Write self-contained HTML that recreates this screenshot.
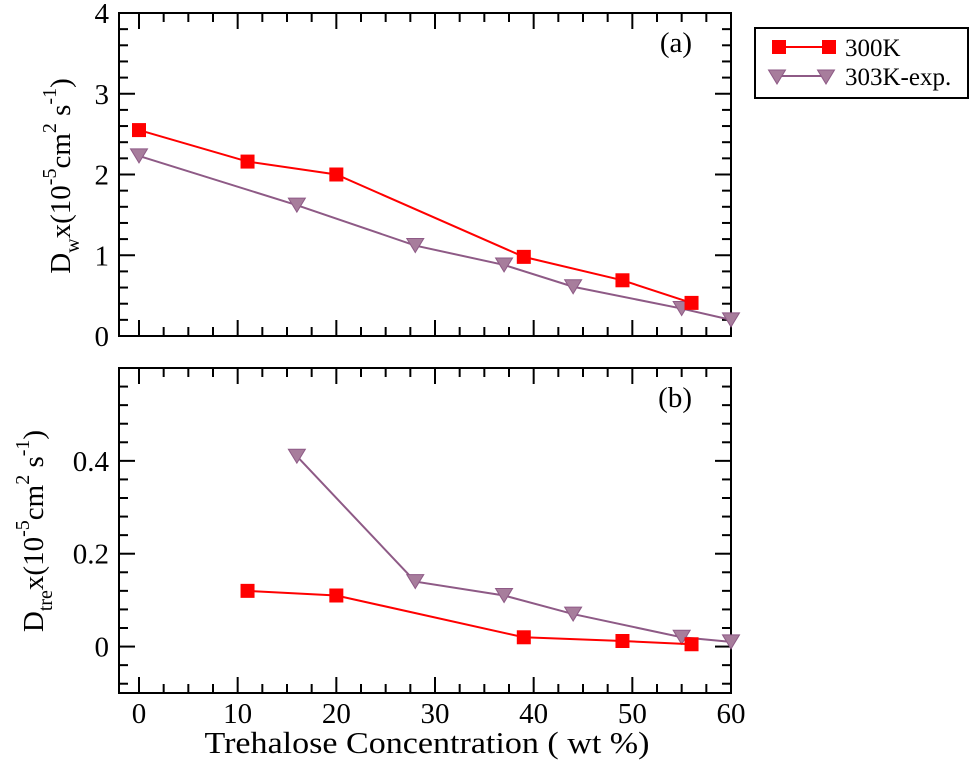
<!DOCTYPE html>
<html><head><meta charset="utf-8">
<style>
html,body{margin:0;padding:0;background:#fff;}
svg{display:block;font-family:"Liberation Serif",serif;}
</style></head>
<body>
<svg id="chart" width="980" height="762" viewBox="0 0 980 762" xmlns="http://www.w3.org/2000/svg"></svg>
<script>
const xTicks = [0,10,20,30,40,50,60];
const topYTicks = [0,1,2,3,4];
const botYTicks = [0,0.2,0.4];
const seriesNames = ["300K","303K-exp."];
const topX300 = [0,11,20,39,49,56];
const topY300 = [2.55,2.16,2.0,0.98,0.69,0.41];
const topX303 = [0,16,28,37,44,55,60];
const topY303 = [2.23,1.62,1.12,0.88,0.61,0.34,0.2];
const botX300 = [11,20,39,49,56];
const botY300 = [0.12,0.11,0.02,0.012,0.005];
const botX303 = [16,28,37,44,55,60];
const botY303 = [0.41,0.14,0.11,0.07,0.02,0.01];

const NS="http://www.w3.org/2000/svg";
const svg=document.getElementById('chart');
function el(tag,attrs,parent){const e=document.createElementNS(NS,tag);for(const k in attrs)e.setAttribute(k,attrs[k]);(parent||svg).appendChild(e);return e;}
const L=119,R=731;
const xs=v=>139+(v-0)*(R-139)/60;
const P1={top:13,bot:336,min:0,max:4,minor:0.2,major:1};
const P2={top:368,bot:693,min:-0.1,max:0.6,minor:0.04,major:0.2};
function ys(p,v){return p.bot-(v-p.min)*(p.bot-p.top)/(p.max-p.min);}
const RED="#ff0000", PUR="#8e5a86", PFILL="#a77d9c";

function panel(p,name,yTicks,label,fmt){
  const g=el('g',{});
  
  
  const fr=el('rect',{x:L,y:p.top,width:R-L,height:p.bot-p.top,fill:'none',stroke:'#000','stroke-width':2},g);
  
  
  for(let v=-2.5;v<=60.01;v+=2.5){
    const x=xs(v); if(x<L)continue;
    const len=(Math.round(v)%10===0&&Math.abs(v-Math.round(v))<1e-6)?16:9;
    el('line',{x1:x,x2:x,y1:p.bot,y2:p.bot-len,stroke:'#000','stroke-width':2},g);
    el('line',{x1:x,x2:x,y1:p.top,y2:p.top+len,stroke:'#000','stroke-width':2},g);
  }
  const start=Math.ceil(p.min/p.minor-1e-6);
  for(let i=start;i*p.minor<=p.max+1e-9;i++){
    const v=i*p.minor,y=ys(p,v);
    if(y<p.top+1||y>p.bot-1)continue;
    const isMaj=Math.abs(v/p.major-Math.round(v/p.major))<1e-6;
    const len=isMaj?16:9;
    el('line',{x1:L,x2:L+len,y1:y,y2:y,stroke:'#000','stroke-width':2},g);
    el('line',{x1:R,x2:R-len,y1:y,y2:y,stroke:'#000','stroke-width':2},g);
  }
  yTicks.forEach(v=>{
    const t=el('text',{x:L-10,y:ys(p,v)+10,'text-anchor':'end','font-size':29},g);
    t.textContent=fmt(v);
    
    
  });
  const pl=el('text',{x:692,y:p.top+39,'text-anchor':'end','font-size':29},g);
  pl.textContent=label;
  
  
}
function sq(x,y,g){const r=el('rect',{x:x-7,y:y-7,width:14,height:14,fill:RED},g);}
function tri(x,y,g){const t=el('polygon',{points:`${x-8.5},${y-7} ${x+8.5},${y-7} ${x},${y+7}`,fill:PFILL,stroke:PUR,'stroke-width':1},g);}
function series(p,xa,ya,color,width,marker,name){
  const g=el('g',{});
  
  
  const pts=xa.map((x,i)=>xs(x)+','+ys(p,ya[i])).join(' ');
  el('polyline',{points:pts,fill:'none',stroke:color,'stroke-width':width},g);
  xa.forEach((x,i)=>marker(xs(x),ys(p,ya[i]),g));
}
panel(P1,'panel-a',topYTicks,'(a)',v=>String(v));
panel(P2,'panel-b',botYTicks,'(b)',v=>v===0?'0':v.toFixed(1));
series(P1,topX303,topY303,PUR,2,tri,'series-a-303k');
series(P1,topX300,topY300,RED,2,sq,'series-a-300k');
series(P2,botX303,botY303,PUR,2,tri,'series-b-303k');
series(P2,botX300,botY300,RED,2,sq,'series-b-300k');

xTicks.forEach(v=>{
  const t=el('text',{x:xs(v),y:723,'text-anchor':'middle','font-size':29});
  t.textContent=v;
  
  
});
const xt=el('text',{x:427,y:753,'text-anchor':'middle','font-size':31,textLength:445,lengthAdjust:'spacingAndGlyphs'});
xt.textContent='Trehalose Concentration ( wt %)';



function ytitle(cx,cy,sub,name){
  const t=el('text',{transform:`translate(${cx},${cy}) rotate(-90)`,'text-anchor':'middle','font-size':29});
  
  
  t.innerHTML=`D<tspan font-size="20" dy="9">${sub}</tspan><tspan dy="-9">x(10</tspan><tspan font-size="20" dy="-14">-5</tspan><tspan dy="14">cm</tspan><tspan font-size="20" dy="-14">2</tspan><tspan dy="14"> s</tspan><tspan font-size="20" dy="-14">-1</tspan><tspan dy="14">)</tspan>`;
}
ytitle(70,176,'w','y-axis-title-a');
ytitle(43,531,'tre','y-axis-title-b');

const lg=el('g',{});


el('rect',{x:755,y:28,width:213,height:70,fill:'#fff',stroke:'#000','stroke-width':2},lg);
const e1=el('g',{},lg);


el('line',{x1:779,x2:829,y1:47,y2:47,stroke:RED,'stroke-width':2},e1);
sq(779,47,e1);sq(829,47,e1);
const t1=el('text',{x:845,y:56,'font-size':25},e1);t1.textContent=seriesNames[0];
const e2=el('g',{},lg);


el('line',{x1:777,x2:826,y1:76,y2:76,stroke:PUR,'stroke-width':2},e2);
tri(777,77,e2);tri(826,77,e2);
const t2=el('text',{x:845,y:85,'font-size':25},e2);t2.textContent=seriesNames[1];
</script>
</body></html>
